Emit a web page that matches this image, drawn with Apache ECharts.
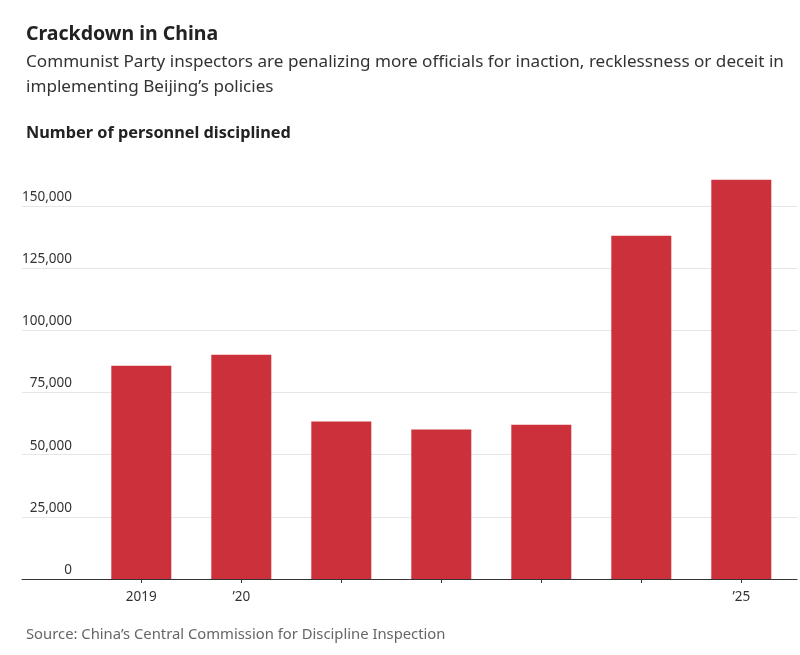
<!DOCTYPE html>
<html>
<head>
<meta charset="utf-8">
<script src="https://cdn.jsdelivr.net/npm/echarts@6/dist/echarts.min.js"></script>
<style>
html,body{margin:0;padding:0;background:#fff;}
#chart{width:800px;height:655px;}
</style>
</head>
<body>
<div id="chart"></div>
<script>
const categories = ['2019', '2020', '2021', '2022', '2023', '2024', '2025'];
const tickLabels = ['2019', '\u201920', '', '', '', '', '\u201925'];
const disciplined = [85800, 90200, 63400, 60100, 62100, 138100, 160600];
const yTicks = { min: 0, max: 175000, interval: 25000 };

const FONT = '"Noto Sans", "Open Sans", sans-serif';
const chart = echarts.init(document.getElementById('chart'), null, { renderer: 'canvas' });

const option = {
  animation: false,
  backgroundColor: '#ffffff',
  title: [
    { text: 'Crackdown in China', left: 21, top: 19,
      textStyle: { fontFamily: FONT, fontSize: 19.5, fontWeight: 'bold', color: '#222' } },
    { text: 'Communist Party inspectors are penalizing more officials for inaction, recklessness or deceit in\nimplementing Beijing\u2019s policies',
      left: 21, top: 45,
      textStyle: { fontFamily: FONT, fontSize: 17.1, fontWeight: 'normal', color: '#333', lineHeight: 25 } },
    { text: 'Number of personnel disciplined', left: 21, top: 120,
      textStyle: { fontFamily: FONT, fontSize: 16.3, fontWeight: 'bold', color: '#222' } },
    { text: 'Source: China\u2019s Central Commission for Discipline Inspection', left: 21, top: 622,
      textStyle: { fontFamily: FONT, fontSize: 14.8, fontWeight: 'normal', color: '#666' } }
  ],
  grid: [
    { left: 22, right: 3, top: 144, bottom: 76, containLabel: false },
    { left: 91.3, right: 8.7, top: 144, bottom: 76, containLabel: false }
  ],
  xAxis: [
    { type: 'value', gridIndex: 0, min: 0, max: 1,
      axisLine: { show: true, onZero: false, lineStyle: { color: '#333', width: 1 } },
      axisTick: { show: false }, axisLabel: { show: false }, splitLine: { show: false } },
    { type: 'category', gridIndex: 1, data: categories,
      axisLine: { show: false },
      axisTick: { show: true, alignWithLabel: true, length: 4, lineStyle: { color: '#333' } },
      axisLabel: { margin: 11, fontFamily: FONT, fontSize: 13.5, color: '#333',
        formatter: (v, i) => tickLabels[i] } }
  ],
  yAxis: [
    { type: 'value', gridIndex: 0, min: yTicks.min, max: yTicks.max, interval: yTicks.interval,
      axisLine: { show: false }, axisTick: { show: false },
      axisLabel: { inside: true, align: 'right', margin: 50, verticalAlign: 'bottom',
        padding: [0, 0, 2, 0], fontFamily: FONT, fontSize: 13.5, color: '#333',
        formatter: v => (v >= yTicks.max ? '' : v.toLocaleString('en-US')) },
      splitLine: { show: true, showMaxLine: false, lineStyle: { color: '#e6e6e6', width: 1 } } },
    { type: 'value', gridIndex: 1, min: yTicks.min, max: yTicks.max, show: false,
      splitLine: { show: false } }
  ],
  series: [
    { type: 'bar', xAxisIndex: 1, yAxisIndex: 1, data: disciplined,
      barCategoryGap: '40%', itemStyle: { color: '#cc303a' } }
  ]
};
chart.setOption(option);
</script>
</body>
</html>
